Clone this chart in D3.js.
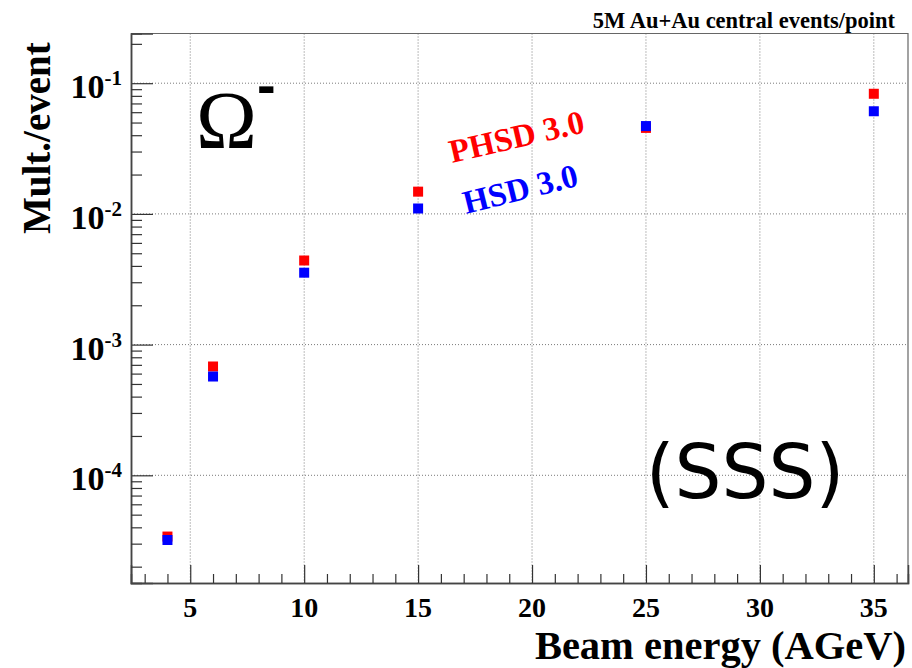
<!DOCTYPE html>
<html>
<head>
<meta charset="utf-8">
<script src="https://cdn.jsdelivr.net/npm/d3@7"></script>
<style>
  body { margin: 0; background: #fff; }
  text { fill: #000; }
</style>
</head>
<body>
<svg id="chart"></svg>
<script>
// values
const energies = [4, 6, 10, 15, 25, 35];
const phsdMult = [3.4e-5, 6.8e-4, 4.4e-3, 1.48e-2, 4.55e-2, 8.3e-2];
const hsdMult = [3.2e-5, 5.7e-4, 3.55e-3, 1.1e-2, 4.7e-2, 6.1e-2];
const xTickValues = [5, 10, 15, 20, 25, 30, 35];
const yTickExps = [-4, -3, -2, -1];

const W = 912, H = 668;
const padL = 131, padR = 908, padT = 33.5, padB = 583;
const serif = "'Liberation Serif', 'Times New Roman', serif";

const svg = d3.select("#chart").attr("width", W).attr("height", H);
svg.append("rect").attr("width", W).attr("height", H).attr("fill", "#fff");

const x = d3.scaleLinear().domain([2.4, 36.5]).range([padL, padR]);
const y = d3.scaleLog().domain([1.5e-5, 0.24]).range([padB, padT]);

// minor ticks
const xMinor = d3.range(3, 37).filter(d => xTickValues.indexOf(d) < 0);
const yMinor = [];
for (let e = -5; e <= -1; e++) {
    for (let k = 2; k <= 9; k++) {
        const v = k * Math.pow(10, e);
        if (v >= y.domain()[0] && v <= y.domain()[1]) yMinor.push(v);
    }
}
const yMajor = yTickExps.map(e => Math.pow(10, e));

// grid
const grid = svg.append("g").attr("stroke", "#7a7a7a").attr("stroke-width", 1)
    .attr("stroke-dasharray", "1,2");
grid.selectAll("line.vx").data(xTickValues).join("line")
    .attr("x1", d => x(d)).attr("x2", d => x(d))
    .attr("y1", padT).attr("y2", padB);
grid.selectAll("line.hy").data(yMajor).join("line")
    .attr("x1", padL).attr("x2", padR)
    .attr("y1", d => y(d)).attr("y2", d => y(d));

// frame top / right
svg.append("path")
    .attr("d", `M${padL},${padT}H${padR}V${padB}`)
    .attr("fill", "none").attr("stroke", "#666").attr("stroke-width", 1.2);

// axes, ticks point inward
const axX = svg.append("g").attr("transform", `translate(0,${padB})`);
axX.append("g").call(d3.axisBottom(x).tickValues(xTickValues).tickSize(-18).tickFormat(""));
axX.append("g").call(d3.axisBottom(x).tickValues(xMinor).tickSize(-9).tickFormat(""));
const axY = svg.append("g").attr("transform", `translate(${padL},0)`);
axY.append("g").call(d3.axisLeft(y).tickValues(yMajor).tickSize(-22).tickFormat(""));
axY.append("g").call(d3.axisLeft(y).tickValues(yMinor).tickSize(-11).tickFormat(""));
svg.selectAll(".domain").attr("stroke", "#444").attr("stroke-width", 1.5);
svg.selectAll(".tick line").attr("stroke", "#333").attr("stroke-width", 1.2);

// tick labels
svg.append("g").selectAll("text").data(xTickValues).join("text")
    .attr("x", d => x(d)).attr("y", 617)
    .attr("text-anchor", "middle")
    .style("font-family", serif).style("font-weight", "bold").style("font-size", "28px")
    .text(d => d);

const yl = svg.append("g").selectAll("text").data(yTickExps).join("text")
    .attr("x", 122).attr("y", d => y(Math.pow(10, d)) + 15)
    .attr("text-anchor", "end")
    .style("font-family", serif).style("font-weight", "bold").style("font-size", "34px");
yl.append("tspan").text("10");
yl.append("tspan").attr("dy", -13).style("font-size", "21px").text(d => d);

// axis titles
svg.append("text")
    .attr("x", 906).attr("y", 659).attr("text-anchor", "end")
    .style("font-family", serif).style("font-weight", "bold").style("font-size", "40.5px")
    .text("Beam energy (AGeV)");
svg.append("text")
    .attr("transform", "translate(50,234) rotate(-90)")
    .style("font-family", serif).style("font-weight", "bold").style("font-size", "39px")
    .text("Mult./event");
svg.append("text")
    .attr("x", 895).attr("y", 28).attr("text-anchor", "end")
    .style("font-family", serif).style("font-weight", "bold").style("font-size", "22.5px")
    .text("5M Au+Au central events/point");

// annotations
const om = svg.append("text").attr("x", 196).attr("y", 148)
    .style("font-family", serif).style("font-size", "82px");
om.append("tspan").text("Ω");
om.append("tspan").attr("dy", -44)
    .style("font-family", "'Liberation Sans', Arial, sans-serif").style("font-weight", "bold")
    .style("font-size", "56px").text("-");

svg.append("text")
    .attr("transform", "translate(452,163) rotate(-13)")
    .style("fill", "#ff0000")
    .style("font-family", serif).style("font-weight", "bold").style("font-size", "33px")
    .text("PHSD 3.0");
svg.append("text")
    .attr("transform", "translate(466,214) rotate(-14)")
    .style("fill", "#0000ff")
    .style("font-family", serif).style("font-weight", "bold").style("font-size", "33px")
    .text("HSD 3.0");

svg.append("text")
    .attr("x", 745).attr("y", 498).attr("text-anchor", "middle")
    .style("font-family", "'DejaVu Sans', sans-serif").style("font-size", "74px")
    .text("(SSS)");

// markers
const ms = 10;
const drawSeries = (vals, color) => {
    svg.append("g").selectAll("rect").data(energies).join("rect")
        .attr("x", d => x(d) - ms / 2)
        .attr("y", (d, i) => y(vals[i]) - ms / 2)
        .attr("width", ms).attr("height", ms)
        .attr("fill", color);
};
drawSeries(phsdMult, "#ff0000");
drawSeries(hsdMult, "#0000ff");
</script>
</body>
</html>
